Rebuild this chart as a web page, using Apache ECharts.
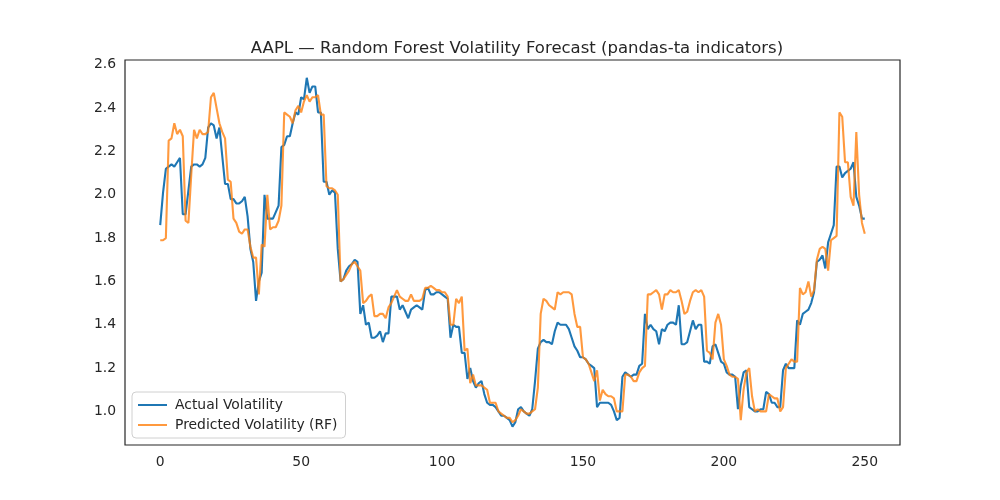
<!DOCTYPE html>
<html lang="en">
<head>
<meta charset="UTF-8">
<title>AAPL volatility forecast</title>
<style>
    html, body { margin: 0; padding: 0; background: #ffffff; }
    #chart { width: 1000px; height: 500px; }
</style>
<script src="https://cdn.jsdelivr.net/npm/echarts@6.0.0/dist/echarts.min.js"></script>
</head>
<body>
<div id="chart"></div>
<script>
    // values, one per trading day (index 0..250)
    var actual = [
        1.86, 2.01, 2.12, 2.13, 2.14, 2.13, 2.15, 2.17, 1.91, 1.91,
        2.02, 2.13, 2.14, 2.14, 2.13, 2.14, 2.17, 2.31, 2.33, 2.32,
        2.26, 2.31, 2.18, 2.05, 2.05, 1.98, 1.98, 1.96, 1.96, 1.97,
        1.99, 1.90, 1.75, 1.69, 1.51, 1.60, 1.64, 2.00, 1.89, 1.89,
        1.89, 1.92, 1.95, 2.22, 2.23, 2.27, 2.27, 2.33, 2.38, 2.37,
        2.45, 2.44, 2.54, 2.47, 2.50, 2.50, 2.38, 2.38, 2.06, 2.06,
        2.00, 2.02, 2.01, 1.75, 1.60, 1.61, 1.65, 1.67, 1.68, 1.70,
        1.69, 1.45, 1.49, 1.40, 1.41, 1.34, 1.34, 1.35, 1.37, 1.32,
        1.36, 1.36, 1.53, 1.53, 1.53, 1.47, 1.49, 1.46, 1.43, 1.47,
        1.48, 1.49, 1.48, 1.47, 1.56, 1.57, 1.54, 1.54, 1.55, 1.55,
        1.54, 1.53, 1.52, 1.34, 1.40, 1.39, 1.39, 1.27, 1.27, 1.15,
        1.20, 1.14, 1.11, 1.13, 1.14, 1.08, 1.04, 1.03, 1.03, 1.02,
        1.00, 0.98, 0.98, 0.97, 0.96, 0.93, 0.95, 1.01, 1.02, 1.00,
        0.99, 0.98, 1.01, 1.14, 1.29, 1.32, 1.33, 1.32, 1.32, 1.31,
        1.37, 1.41, 1.40, 1.40, 1.40, 1.38, 1.34, 1.30, 1.28, 1.25,
        1.25, 1.24, 1.22, 1.21, 1.20, 1.02, 1.04, 1.04, 1.04, 1.04,
        1.03, 1.00, 0.96, 0.97, 1.16, 1.18, 1.17, 1.16, 1.17, 1.17,
        1.21, 1.22, 1.45, 1.38, 1.40, 1.38, 1.37, 1.31, 1.38, 1.37,
        1.40, 1.41, 1.41, 1.40, 1.49, 1.31, 1.31, 1.32, 1.37, 1.42,
        1.38, 1.40, 1.40, 1.23, 1.23, 1.22, 1.30, 1.31, 1.27, 1.23,
        1.22, 1.18, 1.17, 1.17, 1.16, 1.01, 1.12, 1.18, 1.19, 1.02,
        1.01, 1.00, 1.00, 1.01, 1.01, 1.09, 1.08, 1.04, 1.04, 1.02,
        1.02, 1.19, 1.22, 1.20, 1.20, 1.20, 1.42, 1.40, 1.45, 1.46,
        1.47, 1.50, 1.55, 1.69, 1.70, 1.72, 1.66, 1.78, 1.82, 1.86,
        2.13, 2.13, 2.08, 2.10, 2.11, 2.12, 2.15, 1.99, 1.95, 1.89,
        1.89
    ];

    var predicted = [
        1.79, 1.79, 1.80, 2.25, 2.26, 2.33, 2.28, 2.30, 2.27, 1.88,
        1.87, 2.09, 2.30, 2.26, 2.30, 2.28, 2.28, 2.29, 2.45, 2.47,
        2.40, 2.33, 2.29, 2.26, 2.07, 2.06, 1.89, 1.87, 1.83, 1.82,
        1.84, 1.84, 1.76, 1.71, 1.71, 1.54, 1.77, 1.76, 2.00, 1.84,
        1.85, 1.85, 1.88, 1.95, 2.38, 2.37, 2.36, 2.33, 2.39, 2.41,
        2.38, 2.43, 2.46, 2.43, 2.45, 2.45, 2.46, 2.37, 2.37, 2.04,
        2.03, 2.03, 2.02, 2.00, 1.60, 1.61, 1.63, 1.65, 1.68, 1.69,
        1.67, 1.65, 1.50, 1.51, 1.53, 1.54, 1.44, 1.44, 1.45, 1.45,
        1.43, 1.48, 1.50, 1.53, 1.56, 1.53, 1.52, 1.51, 1.51, 1.54,
        1.51, 1.51, 1.51, 1.52, 1.57, 1.57, 1.58, 1.57, 1.56, 1.56,
        1.55, 1.55, 1.53, 1.40, 1.40, 1.52, 1.50, 1.53, 1.28, 1.29,
        1.13, 1.17, 1.12, 1.12, 1.12, 1.11, 1.10, 1.04, 1.04, 1.04,
        1.00, 0.99, 0.98, 0.97, 0.97, 0.95, 0.96, 0.98, 1.01, 1.00,
        0.99, 0.99, 1.00, 1.01, 1.11, 1.45, 1.52, 1.51, 1.49, 1.48,
        1.47, 1.55, 1.54, 1.55, 1.55, 1.55, 1.54, 1.45, 1.39, 1.39,
        1.25, 1.24, 1.22, 1.18, 1.14, 1.19, 1.05, 1.10, 1.08, 1.07,
        1.07, 1.06, 1.00, 1.00, 1.00, 1.17, 1.17, 1.16, 1.14, 1.14,
        1.18, 1.20, 1.21, 1.54, 1.54, 1.55, 1.56, 1.54, 1.47, 1.54,
        1.54, 1.56, 1.55, 1.55, 1.56, 1.51, 1.45, 1.46, 1.51, 1.55,
        1.56, 1.55, 1.56, 1.53, 1.28, 1.27, 1.24, 1.41, 1.45, 1.40,
        1.24, 1.21, 1.17, 1.16, 1.16, 1.15, 0.96, 1.10, 1.18, 1.20,
        1.07, 1.00, 1.01, 1.00, 1.00, 1.00, 1.08, 1.07, 1.06, 1.06,
        1.00, 1.02, 1.20, 1.22, 1.24, 1.23, 1.23, 1.57, 1.54, 1.55,
        1.60, 1.53, 1.56, 1.70, 1.75, 1.76, 1.75, 1.65, 1.79, 1.80,
        1.81, 2.38, 2.36, 2.15, 2.15, 1.99, 1.95, 2.29, 2.00, 1.87,
        1.82
    ];

    var xTicks = [0, 50, 100, 150, 200, 250];
    var yTicks = [1.0, 1.2, 1.4, 1.6, 1.8, 2.0, 2.2, 2.4, 2.6];

    var textColor = '#262626';
    var fontName = 'DejaVu Sans';

    function toPairs(values) {
        return values.map(function (v, i) { return [i, v]; });
    }

    var chart = echarts.init(document.getElementById('chart'));
    var option = {
        animation: false,
        backgroundColor: '#ffffff',
        textStyle: { fontFamily: fontName, color: textColor },
        title: {
            text: 'AAPL \u2014 Random Forest Volatility Forecast (pandas-ta indicators)',
            left: 512,
            top: 35,
            textAlign: 'center',
            textStyle: { fontFamily: fontName, fontSize: 16.5, fontWeight: 'normal', color: textColor }
        },
        grid: {
            left: 125, right: 100, top: 60, bottom: 55,
            show: true, borderColor: '#262626', borderWidth: 1.2, backgroundColor: '#ffffff'
        },
        legend: {
            orient: 'vertical',
            left: 132,
            top: 392,
            icon: 'rect',
            itemWidth: 29,
            itemHeight: 2,
            itemGap: 6,
            padding: [6, 8, 6, 6],
            backgroundColor: '#ffffff',
            borderColor: '#d0d0d0',
            borderWidth: 1,
            borderRadius: 4,
            textStyle: { fontFamily: fontName, fontSize: 13.9, color: textColor, padding: [0, 0, 0, 3], lineHeight: 14 },
            data: [
                { name: 'Actual Volatility' },
                { name: 'Predicted Volatility (RF)', itemStyle: { opacity: 0.8 } }
            ]
        },
        xAxis: {
            type: 'value',
            min: -12.5,
            max: 262.5,
            axisLine: { show: false },
            axisTick: { show: false },
            splitLine: { show: false },
            axisLabel: {
                customValues: xTicks,
                margin: 10,
                fontFamily: fontName, fontSize: 13.9, color: textColor
            }
        },
        yAxis: {
            type: 'value',
            min: 0.845,
            max: 2.622,
            axisLine: { show: false },
            axisTick: { show: false },
            splitLine: { show: false },
            axisLabel: {
                customValues: yTicks,
                margin: 9,
                fontFamily: fontName, fontSize: 13.9, color: textColor,
                formatter: function (v) { return v.toFixed(1); }
            }
        },
        series: [
            {
                name: 'Actual Volatility',
                type: 'line',
                data: toPairs(actual),
                symbol: 'none',
                color: '#1f77b4',
                lineStyle: { width: 2.1, color: '#1f77b4' }
            },
            {
                name: 'Predicted Volatility (RF)',
                type: 'line',
                data: toPairs(predicted),
                symbol: 'none',
                color: '#ff7f0e',
                lineStyle: { width: 2.1, color: '#ff7f0e', opacity: 0.8 }
            }
        ]
    };
    chart.setOption(option);
</script>
</body>
</html>
